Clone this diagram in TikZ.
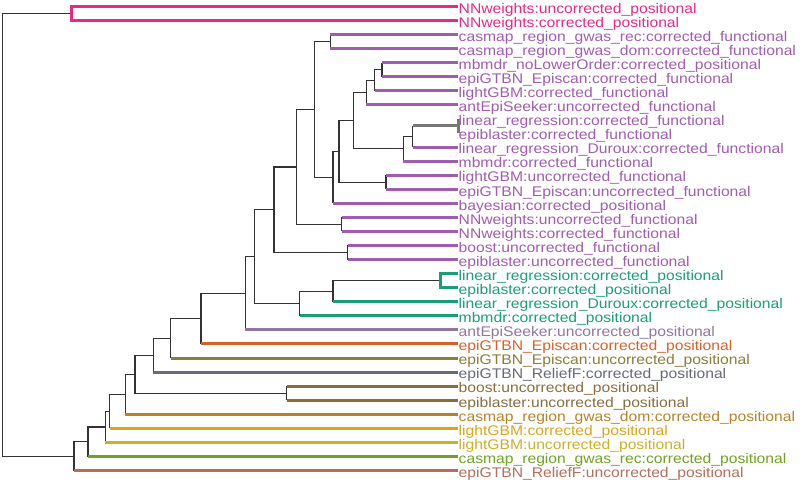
\documentclass[tikz,border=0pt]{standalone}
\usepackage{fontspec}
\setmainfont{Liberation Sans}
\usepackage{graphicx}
\definecolor{cBlack}{HTML}{333333}
\definecolor{cPink}{HTML}{E7298A}
\definecolor{cPurple}{HTML}{A05DB0}
\definecolor{cGreen}{HTML}{1B9E77}
\definecolor{cLilac}{HTML}{8F76A2}
\definecolor{cOrange}{HTML}{D8612A}
\definecolor{cOlive}{HTML}{8C7D3A}
\definecolor{cSlate}{HTML}{676A78}
\definecolor{cBrown}{HTML}{8B6D3C}
\definecolor{cOchre}{HTML}{B58428}
\definecolor{cGold}{HTML}{DDA51A}
\definecolor{cYellow}{HTML}{C9B22A}
\definecolor{cGreenB}{HTML}{6EA520}
\definecolor{cRose}{HTML}{B2705C}
\definecolor{cGrayE}{HTML}{777777}
\newcommand\ib[2]{\draw[br] (#1) |- (#2);}
\newcommand\lb[3]{\draw[br] (#1) -- (#1 |- #2); \draw[lf=#3] (#1 |- #2) -- (#2);}
\newcommand\lab[3]{\node[lbl,text=#2] (T#1) at ([xshift=0.5pt,yshift=-6.8pt]L#1) {\scalebox{1.12}[1]{#3}};}
\begin{document}
\begin{tikzpicture}[x=1pt,y=-1pt,
  br/.style={draw=cBlack, line width=1.25pt},
  lf/.style={draw=#1, line width=3pt},
  lbl/.style={inner sep=0pt, anchor=base west, font=\fontsize{14}{14}\selectfont}]
\useasboundingbox (0,0) rectangle (800,484);
\foreach \i in {1,...,34} \coordinate (L\i) at (458,{6.3+14.07*(\i-1)});
% internal nodes
\coordinate (root) at (2.3,234.8);
\coordinate (n1x2) at (71,13.35);
\coordinate (n3x4) at (330.3,41.45);
\coordinate (n5x6) at (382,69.6);
\coordinate (n5x7) at (374.7,80.15);
\coordinate (n5x8) at (366.3,92.5);
\coordinate (n9x10) at (458,125.9);
\coordinate (n9x11) at (412.7,136.45);
\coordinate (n9x12) at (403.3,148.8);
\coordinate (n5x12) at (353.3,120.65);
\coordinate (n13x14) at (386,182.15);
\coordinate (n5x14) at (339,151.4);
\coordinate (n5x15) at (333,177.35);
\coordinate (n3x15) at (314.3,109.4);
\coordinate (n16x17) at (341.7,224.4);
\coordinate (n3x17) at (296.7,166.9);
\coordinate (n18x19) at (347.7,252.55);
\coordinate (n3x19) at (274,209.7);
\coordinate (n20x21) at (440,280.65);
\coordinate (n20x22) at (333,291.2);
\coordinate (n20x23) at (299.7,303.55);
\coordinate (n3x23) at (254.3,256.6);
\coordinate (n3x24) at (245.3,293.25);
\coordinate (n3x25) at (201,318.6);
\coordinate (n3x26) at (170.7,338.35);
\coordinate (n3x27) at (153.3,355.2);
\coordinate (n28x29) at (286.7,393.25);
\coordinate (n3x29) at (135,374.2);
\coordinate (n3x30) at (125.3,394.3);
\coordinate (n3x31) at (109.7,411.35);
\coordinate (n3x32) at (105.3,426.9);
\coordinate (n3x33) at (88,441.75);
\coordinate (n3x34) at (74,456.2);
% edges
\ib{root}{n1x2} \ib{root}{n3x34}
\draw[lf=cPink] (n1x2) |- (L1); \draw[lf=cPink] (n1x2) |- (L2);
\ib{n3x34}{n3x33} \lb{n3x34}{L34}{cRose}
\ib{n3x33}{n3x32} \lb{n3x33}{L33}{cGreenB}
\ib{n3x32}{n3x31} \lb{n3x32}{L32}{cYellow}
\ib{n3x31}{n3x30} \lb{n3x31}{L31}{cGold}
\ib{n3x30}{n3x29} \lb{n3x30}{L30}{cOchre}
\ib{n3x29}{n3x27} \ib{n3x29}{n28x29}
\lb{n28x29}{L28}{cBrown} \lb{n28x29}{L29}{cBrown}
\ib{n3x27}{n3x26} \lb{n3x27}{L27}{cSlate}
\ib{n3x26}{n3x25} \lb{n3x26}{L26}{cOlive}
\ib{n3x25}{n3x24} \lb{n3x25}{L25}{cOrange}
\ib{n3x24}{n3x23} \lb{n3x24}{L24}{cLilac}
\ib{n3x23}{n3x19} \ib{n3x23}{n20x23}
\ib{n20x23}{n20x22} \lb{n20x23}{L23}{cGreen}
\ib{n20x22}{n20x21} \lb{n20x22}{L22}{cGreen}
\draw[lf=cGreen] (n20x21) |- (L20); \draw[lf=cGreen] (n20x21) |- (L21);
\ib{n3x19}{n3x17} \ib{n3x19}{n18x19}
\lb{n18x19}{L18}{cPurple} \lb{n18x19}{L19}{cPurple}
\ib{n3x17}{n3x15} \ib{n3x17}{n16x17}
\lb{n16x17}{L16}{cPurple} \lb{n16x17}{L17}{cPurple}
\ib{n3x15}{n3x4} \ib{n3x15}{n5x15}
\lb{n3x4}{L3}{cPurple} \lb{n3x4}{L4}{cPurple}
\ib{n5x15}{n5x14} \lb{n5x15}{L15}{cPurple}
\ib{n5x14}{n5x12} \ib{n5x14}{n13x14}
\lb{n13x14}{L13}{cPurple} \lb{n13x14}{L14}{cPurple}
\ib{n5x12}{n5x8} \ib{n5x12}{n9x12}
\ib{n5x8}{n5x7} \lb{n5x8}{L8}{cPurple}
\ib{n5x7}{n5x6} \lb{n5x7}{L7}{cPurple}
\lb{n5x6}{L5}{cPurple} \lb{n5x6}{L6}{cPurple}
\ib{n9x12}{n9x11} \lb{n9x12}{L12}{cPurple}
\lb{n9x11}{n9x10}{cGrayE} \lb{n9x11}{L11}{cPurple}
\draw[lf=cGrayE] (L9) -- (L10);
% labels
\lab{1}{cPink}{NNweights:uncorrected\_positional}
\lab{2}{cPink}{NNweights:corrected\_positional}
\lab{3}{cPurple}{casmap\_region\_gwas\_rec:corrected\_functional}
\lab{4}{cPurple}{casmap\_region\_gwas\_dom:corrected\_functional}
\lab{5}{cPurple}{mbmdr\_noLowerOrder:corrected\_positional}
\lab{6}{cPurple}{epiGTBN\_Episcan:corrected\_functional}
\lab{7}{cPurple}{lightGBM:corrected\_functional}
\lab{8}{cPurple}{antEpiSeeker:uncorrected\_functional}
\lab{9}{cPurple}{linear\_regression:corrected\_functional}
\lab{10}{cPurple}{epiblaster:corrected\_functional}
\lab{11}{cPurple}{linear\_regression\_Duroux:corrected\_functional}
\lab{12}{cPurple}{mbmdr:corrected\_functional}
\lab{13}{cPurple}{lightGBM:uncorrected\_functional}
\lab{14}{cPurple}{epiGTBN\_Episcan:uncorrected\_functional}
\lab{15}{cPurple}{bayesian:corrected\_positional}
\lab{16}{cPurple}{NNweights:uncorrected\_functional}
\lab{17}{cPurple}{NNweights:corrected\_functional}
\lab{18}{cPurple}{boost:uncorrected\_functional}
\lab{19}{cPurple}{epiblaster:uncorrected\_functional}
\lab{20}{cGreen}{linear\_regression:corrected\_positional}
\lab{21}{cGreen}{epiblaster:corrected\_positional}
\lab{22}{cGreen}{linear\_regression\_Duroux:corrected\_positional}
\lab{23}{cGreen}{mbmdr:corrected\_positional}
\lab{24}{cLilac}{antEpiSeeker:uncorrected\_positional}
\lab{25}{cOrange}{epiGTBN\_Episcan:corrected\_positional}
\lab{26}{cOlive}{epiGTBN\_Episcan:uncorrected\_positional}
\lab{27}{cSlate}{epiGTBN\_ReliefF:corrected\_positional}
\lab{28}{cBrown}{boost:uncorrected\_positional}
\lab{29}{cBrown}{epiblaster:uncorrected\_positional}
\lab{30}{cOchre}{casmap\_region\_gwas\_dom:corrected\_positional}
\lab{31}{cGold}{lightGBM:corrected\_positional}
\lab{32}{cYellow}{lightGBM:uncorrected\_positional}
\lab{33}{cGreenB}{casmap\_region\_gwas\_rec:corrected\_positional}
\lab{34}{cRose}{epiGTBN\_ReliefF:uncorrected\_positional}
\end{tikzpicture}
\end{document}
